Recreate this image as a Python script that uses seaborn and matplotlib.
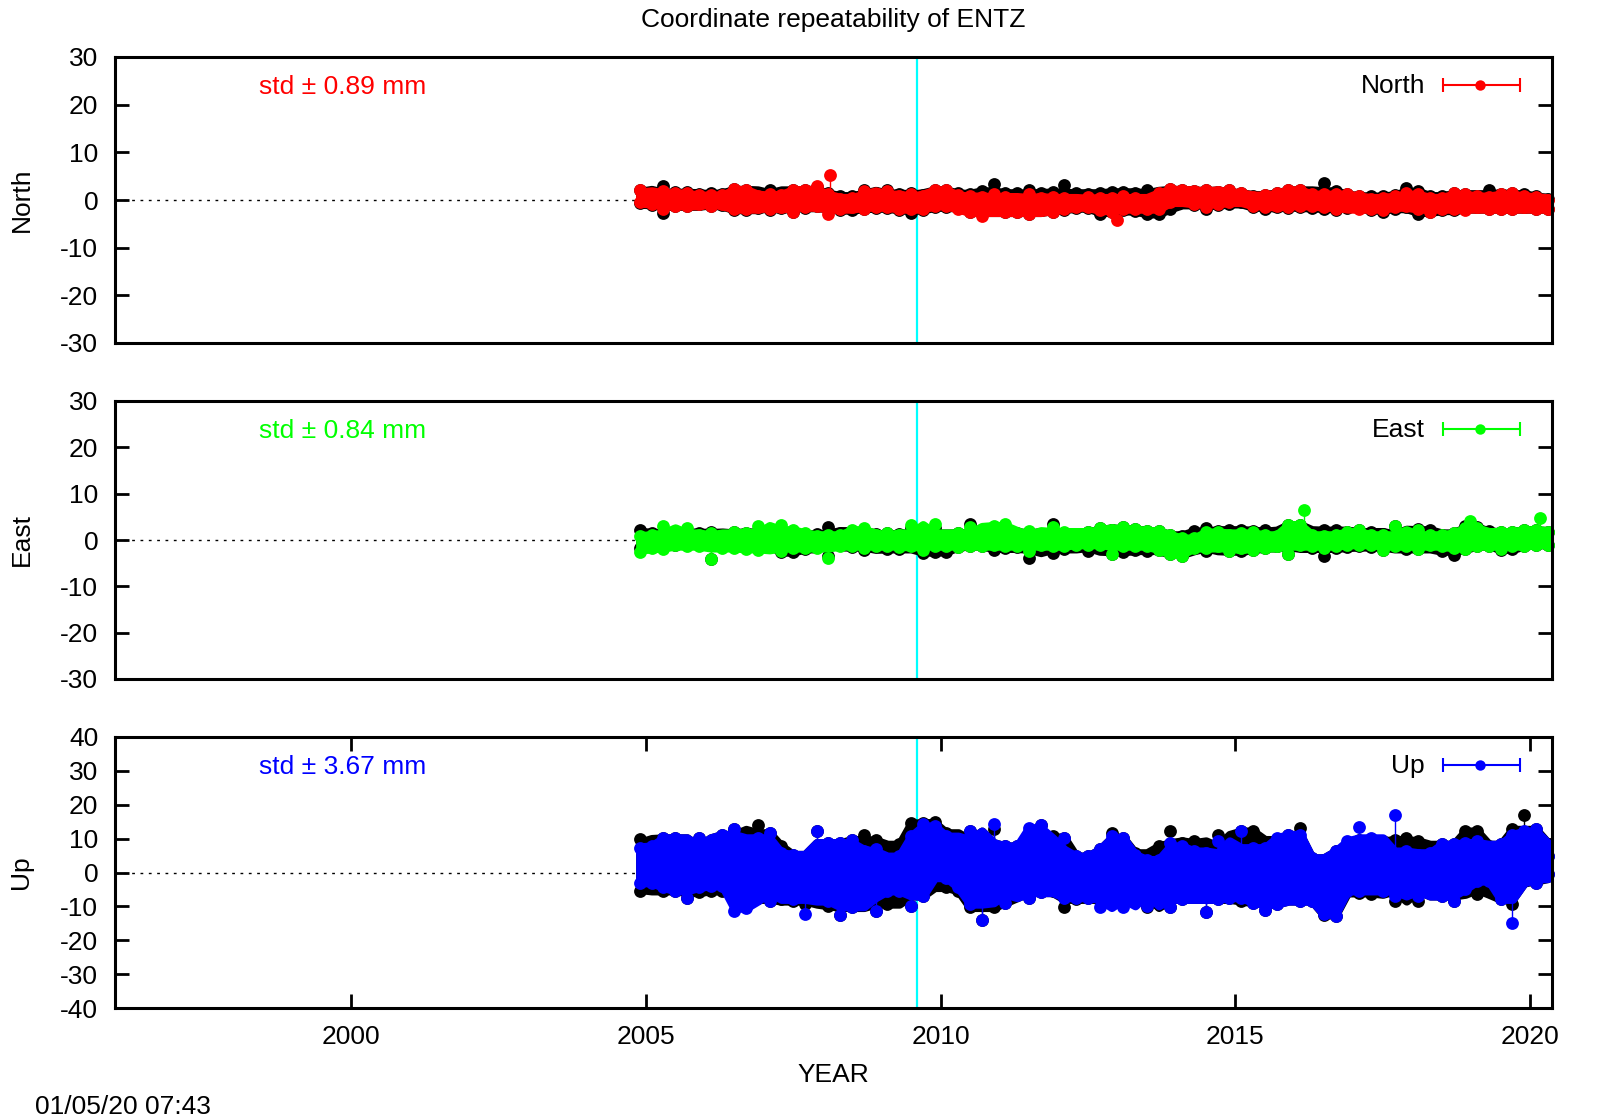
# coordinate repeatability plot, three panels North / East / Up

import pandas as pd
import matplotlib
matplotlib.use('Agg')
import matplotlib.pyplot as plt
import seaborn as sns

years = [2004.9, 2005.1, 2005.3, 2005.5, 2005.7, 2005.9, 2006.1, 2006.3, 2006.5, 2006.7,
         2006.9, 2007.1, 2007.3, 2007.5, 2007.7, 2007.9, 2008.1, 2008.3, 2008.5, 2008.7,
         2008.9, 2009.1, 2009.3, 2009.5, 2009.7, 2009.9, 2010.1, 2010.3, 2010.5, 2010.7,
         2010.9, 2011.1, 2011.3, 2011.5, 2011.7, 2011.9, 2012.1, 2012.3, 2012.5, 2012.7,
         2012.9, 2013.1, 2013.3, 2013.5, 2013.7, 2013.9, 2014.1, 2014.3, 2014.5, 2014.7,
         2014.9, 2015.1, 2015.3, 2015.5, 2015.7, 2015.9, 2016.1, 2016.3, 2016.5, 2016.7,
         2016.9, 2017.1, 2017.3, 2017.5, 2017.7, 2017.9, 2018.1, 2018.3, 2018.5, 2018.7,
         2018.9, 2019.1, 2019.3, 2019.5, 2019.7, 2019.9, 2020.1, 2020.3]

# upper and lower edge of the cloud in every time bin (mm)
north_hi = [2.1, 1.2, 1.9, 1.5, 1.4, 1.0, 1.0, 1.0, 2.4, 2.2, 0.8, 1.2, 1.0, 2.1, 2.2, 2.9, 1.2, 0.3, 0.5, 1.9,
            1.2, 1.9, 0.8, 1.2, 0.8, 2.2, 2.1, 1.0, 0.8, 0.7, 1.2, 0.7, 0.1, 1.2, 0.5, 0.7, 0.5, 0.1, 0.7,
            0.35, 0.5, 0.8, 0.5, 0.1, 1.5, 2.4, 2.2, 1.9, 2.1, 1.7, 2.2, 1.5, 0.7, 1.0, 1.4, 2.2, 2.1, 1.2, 1.2,
            1.2, 1.2, 0.8, 0.3, 0.5, 0.8, 1.5, 1.2, 0.5, 0.5, 1.5, 1.2, 0.8, 0.7, 1.2, 1.4, 0.8, 0.7, 0.1]
north_lo = [-0.5, -0.8, -1.9, -1.2, -1.2, -0.8, -1.2, -0.8, -1.9, -1.9, -1.5, -1.9, -1.5, -2.6, -1.5, -1.2, -2.9, -1.9, -1.5, -1.9,
            -1.5, -1.5, -1.9, -1.9, -1.9, -1.2, -1.2, -1.9, -2.6, -3.3, -1.5, -2.6, -2.6, -2.9, -2.2, -2.6, -1.9, -1.5, -1.5,
            -2.2, -2.6, -1.9, -1.9, -1.9, -1.9, -0.5, 0.2, -0.8, -1.5, -0.8, -0.5, -0.1, -1.2, -1.5, -1.2, -1.5, -1.2, -1.2, -1.5,
            -1.9, -1.2, -1.9, -1.9, -2.2, -1.5, -1.2, -1.9, -2.6, -1.9, -1.9, -2.2, -1.5, -1.9, -1.9, -1.9, -1.5, -1.9, -1.9]
north_black_hi = [2.2, 1.4, 3.0, 1.6, 1.6, 1.3, 1.5, 1.3, 2.4, 2.2, 1.5, 2.1, 1.3, 2.1, 2.2, 2.8, 1.4, 0.8, 0.9, 2.0,
                  1.4, 2.2, 1.2, 1.5, 1.0, 2.2, 2.1, 1.4, 1.2, 1.9, 3.3, 1.5, 1.4, 2.2, 1.4, 1.6, 3.1, 1.5, 1.2,
                  1.5, 1.7, 1.7, 1.5, 2.0, 1.5, 2.4, 2.2, 1.9, 2.1, 1.7, 2.2, 1.5, 0.8, 1.1, 1.5, 2.2, 2.1, 1.3, 3.6,
                  1.9, 1.2, 0.9, 0.8, 0.8, 1.1, 2.6, 1.8, 0.9, 0.9, 1.5, 1.3, 0.9, 2.1, 1.3, 1.5, 1.3, 0.8, 0.3]
north_black_lo = [-0.7, -1.0, -2.7, -1.3, -1.3, -0.9, -1.3, -1.0, -2.1, -2.0, -1.6, -2.0, -1.6, -2.6, -1.6, -1.3, -1.8, -2.1, -2.2, -1.8,
                  -1.6, -1.7, -2.1, -2.8, -2.1, -1.4, -1.5, -1.7, -2.6, -2.8, -1.7, -2.6, -2.6, -2.9, -2.2, -2.6, -2.0, -1.6, -1.7,
                  -2.9, -2.6, -2.2, -2.3, -2.9, -3.0, -1.8, -0.3, -1.0, -1.9, -1.1, -0.8, -0.5, -1.5, -1.9, -1.4, -1.7, -1.4, -1.6, -1.8,
                  -2.1, -1.7, -1.2, -2.1, -2.6, -1.8, -1.4, -2.9, -2.6, -2.2, -2.2, -1.9, -1.5, -1.9, -1.9, -1.9, -1.5, -1.9, -1.9]
north_spike_x = [2008.12, 2012.99]
north_spike_y = [5.2, -4.2]

east_hi = [0.8, 1.1, 3.1, 1.5, 2.6, 1.1, 1.5, 0.4, 1.7, 1.5, 3.1, 1.1, 3.3, 2.2, 1.5, 0.8, 1.1, 1.1, 2.2, 2.6,
           1.1, 1.5, 1.1, 3.3, 1.5, 3.5, 0.4, 1.5, 2.9, 1.5, 3.1, 3.4, 1.1, 2.0, 1.1, 2.9, 1.8, 1.1, 1.8,
           2.6, 2.2, 2.9, 2.4, 2.0, 2.0, 1.1, 0.4, 0.4, 1.8, 1.7, 1.1, 1.5, 1.7, 1.1, 0.8, 3.3, 3.3, 1.1, 0.8,
           1.1, 1.8, 2.2, 1.1, 1.1, 3.1, 1.1, 2.2, 1.1, 1.1, 1.5, 2.6, 2.6, 1.1, 1.8, 1.8, 2.2, 2.2, 1.8]
east_lo = [-2.6, -1.7, -1.9, -1.0, -1.3, -1.3, -4.2, -1.7, -1.7, -1.9, -2.1, -1.3, -2.4, -1.7, -1.7, -1.7, -3.9, -1.3, -1.3, -1.7,
           -1.3, -1.3, -1.5, -1.3, -2.1, -1.3, -1.3, -1.5, -1.3, -1.3, -1.0, -1.3, -1.3, -2.4, -1.0, -1.3, -1.3, -1.0, -1.0,
           -1.0, -3.1, -1.3, -1.3, -1.3, -2.1, -3.1, -3.5, -1.7, -1.7, -1.3, -2.4, -1.7, -2.1, -1.7, -1.3, -3.1, -1.0, -1.3, -1.7,
           -1.3, -1.0, -1.0, -1.0, -2.1, -1.3, -1.3, -1.9, -1.0, -1.3, -1.7, -1.9, -1.3, -1.3, -1.9, -1.3, -1.3, -1.0, -1.0]
east_black_hi = [2.2, 1.6, 1.5, 1.9, 1.7, 1.6, 1.7, 0.9, 1.8, 1.5, 2.0, 1.6, 1.9, 1.5, 1.3, 1.3, 2.9, 1.5, 2.0, 2.1,
                 1.2, 1.5, 1.2, 2.6, 1.5, 2.6, 0.8, 1.5, 3.4, 1.5, 1.9, 2.1, 1.5, 1.8, 1.3, 3.4, 1.5, 1.3, 1.8,
                 2.6, 2.2, 2.9, 2.4, 2.0, 2.0, 1.1, 0.9, 1.9, 2.6, 1.9, 2.2, 2.2, 1.9, 2.1, 1.1, 3.3, 3.3, 1.1, 2.2,
                 2.1, 1.8, 2.2, 1.8, 1.3, 3.1, 1.2, 2.3, 2.2, 1.1, 1.5, 3.0, 2.8, 1.9, 1.8, 1.8, 2.2, 2.2, 1.8]
east_black_lo = [-1.8, -1.3, -1.3, -1.1, -1.0, -1.1, -4.1, -1.3, -1.3, -1.3, -1.3, -1.2, -2.6, -2.6, -1.9, -1.2, -3.5, -0.9, -1.5, -2.2,
                 -1.0, -2.0, -1.9, -1.4, -2.7, -2.6, -2.5, -1.5, -1.3, -1.2, -2.2, -1.8, -1.5, -3.9, -2.0, -2.7, -1.9, -1.3, -2.4,
                 -1.6, -3.0, -2.5, -2.2, -2.3, -2.1, -3.1, -3.5, -1.7, -2.3, -1.5, -2.4, -2.4, -2.1, -1.7, -1.4, -3.1, -1.0, -1.8, -3.5,
                 -1.8, -1.6, -1.4, -1.5, -2.1, -1.3, -1.9, -1.9, -1.4, -2.4, -3.2, -2.0, -1.3, -1.3, -2.2, -2.0, -1.3, -1.0, -1.0]
east_spike_x = [2016.16, 2018.98, 2020.16]
east_spike_y = [6.4, 4.2, 4.7]

up_hi = [7.3, 7.8, 10.2, 10.2, 7.3, 10.2, 7.8, 11.2, 12.7, 7.8, 10.2, 11.7, 5.8, 5.3, 3.8, 12.2, 8.8, 8.8, 9.7, 6.3,
         6.8, 3.8, 4.8, 10.7, 14.2, 13.7, 10.7, 9.7, 12.2, 8.8, 14.2, 7.8, 7.8, 13.2, 13.9, 6.8, 10.2, 4.8, 4.8,
         6.8, 10.7, 10.2, 5.3, 3.8, 3.8, 8.8, 7.8, 6.3, 5.8, 9.3, 4.3, 12.2, 7.3, 7.3, 10.2, 11.2, 11.2, 4.3, 3.8,
         6.3, 9.3, 13.5, 10.2, 6.3, 17.1, 6.3, 5.3, 5.8, 8.3, 8.3, 8.8, 9.3, 6.8, 8.3, 11.2, 12.2, 12.7, 4.8]
up_lo = [-3.0, -3.0, -4.4, -5.4, -7.4, -4.4, -3.9, -3.9, -11.5, -10.5, -4.4, -8.4, -5.9, -7.9, -12.3, -7.4, -8.4, -12.5, -10.1, -7.4,
         -11.3, -5.4, -5.4, -9.8, -6.9, -0.3, -1.5, -4.4, -9.3, -14.1, -6.4, -8.9, -5.4, -7.4, -5.9, -3.9, -7.4, -7.4, -7.4,
         -10.3, -7.9, -10.3, -6.4, -9.8, -6.4, -10.3, -7.9, -6.9, -11.8, -7.9, -7.4, -7.4, -8.9, -11.1, -9.3, -6.4, -8.4, -8.4, -12.3,
         -12.8, -5.4, -5.4, -4.4, -5.4, -6.9, -4.4, -6.9, -5.4, -6.9, -8.4, -4.9, -2.5, -2.5, -7.9, -14.8, -2.0, -3.0, -0.5]
up_black_hi = [10.0, 7.8, 10.2, 10.2, 7.3, 10.2, 7.8, 11.2, 12.7, 11.2, 13.9, 11.7, 7.8, 5.3, 3.8, 12.2, 8.8, 8.8, 9.7, 11.2,
               9.5, 3.8, 8.3, 14.5, 14.7, 14.9, 11.7, 9.7, 12.2, 8.8, 12.7, 7.8, 7.8, 10.7, 13.9, 10.7, 10.2, 4.8, 4.8,
               6.8, 11.7, 10.2, 5.8, 3.8, 7.8, 12.2, 8.8, 9.3, 7.8, 11.2, 4.3, 12.2, 12.2, 7.3, 9.7, 11.2, 13.2, 4.3, 3.8,
               6.3, 7.8, 9.7, 6.8, 9.3, 9.7, 10.2, 9.3, 5.8, 8.3, 8.3, 12.2, 12.2, 7.8, 8.3, 12.7, 17.1, 12.7, 4.8]
up_black_lo = [-5.6, -4.4, -5.4, -5.4, -7.4, -5.9, -5.4, -5.4, -6.4, -7.9, -7.4, -8.4, -7.9, -8.4, -9.3, -8.4, -9.8, -12.5, -10.3, -7.9,
               -11.3, -9.3, -5.4, -9.8, -6.9, -0.5, -4.4, -5.4, -10.3, -14.1, -10.3, -8.9, -5.4, -7.4, -5.9, -5.4, -10.3, -7.9, -7.4,
               -8.4, -7.9, -9.0, -7.0, -10.3, -6.4, -10.3, -7.9, -7.0, -11.8, -7.9, -7.4, -8.4, -8.9, -11.1, -9.3, -7.5, -8.4, -8.4, -12.5,
               -12.8, -5.4, -6.0, -6.4, -5.4, -8.4, -4.4, -8.4, -5.4, -6.9, -8.4, -4.9, -6.4, -5.0, -7.9, -9.3, -2.5, -3.0, -0.5]
up_spike_x = []
up_spike_y = []

labels = ['North', 'East', 'Up']
colors = ['#ff0000', '#00ff00', '#0000ff']
stds = ['std ± 0.89 mm', 'std ± 0.84 mm', 'std ± 3.67 mm']
ylims = [(-30, 30), (-30, 30), (-40, 40)]
yticks = [[-30, -20, -10, 0, 10, 20, 30], [-30, -20, -10, 0, 10, 20, 30], [-40, -30, -20, -10, 0, 10, 20, 30, 40]]
xticks = [2000, 2005, 2010, 2015, 2020]
offset_year = 2009.6

W, H = 1600, 1120
left, right = 115, 1552
boxes = [(57, 343), (401, 679), (737, 1008)]

sns.set_style('white')
plt.rcParams['font.family'] = ['Liberation Sans', 'DejaVu Sans']
plt.rcParams['font.size'] = 19
plt.rcParams['axes.unicode_minus'] = False
# seaborn greys the text, the plot has plain black
plt.rcParams['text.color'] = 'black'
plt.rcParams['axes.labelcolor'] = 'black'
plt.rcParams['xtick.color'] = 'black'
plt.rcParams['ytick.color'] = 'black'


def draw_cloud(ax, hi, lo, color, zorder):
    df = pd.DataFrame({'year': years, 'hi': hi, 'lo': lo})
    # solid core without the lone spikes, those stay on their thin stems
    core_hi = df['hi'].rolling(3, center=True, min_periods=1).median()
    core_lo = df['lo'].rolling(3, center=True, min_periods=1).median()
    # stroke on the fill closes the gaps between neighbouring markers
    ax.fill_between(df['year'], core_lo, core_hi, facecolor=color, edgecolor=color, lw=6,
                    joinstyle='round', zorder=zorder, clip_on=False)
    ax.vlines(df['year'], df['lo'], df['hi'], color=color, lw=1, zorder=zorder, clip_on=False)
    for col in ['hi', 'lo']:
        sns.scatterplot(data=df, x='year', y=col, ax=ax, color=color, s=85, linewidth=0,
                        zorder=zorder, clip_on=False, legend=False)


fig = plt.figure(figsize=(W / 100, H / 100), dpi=100)
series = [(north_hi, north_lo, north_black_hi, north_black_lo, north_spike_x, north_spike_y),
          (east_hi, east_lo, east_black_hi, east_black_lo, east_spike_x, east_spike_y),
          (up_hi, up_lo, up_black_hi, up_black_lo, up_spike_x, up_spike_y)]

for i, (top, bottom) in enumerate(boxes):
    ax = fig.add_axes([left / W, 1 - bottom / H, (right - left) / W, (bottom - top) / H])
    hi, lo, black_hi, black_lo, spike_x, spike_y = series[i]
    color = colors[i]

    ax.plot([1996, years[0]], [0, 0], color='black', lw=1, ls=(0, (2, 4)), zorder=1)
    ax.axvline(offset_year, color='#00ffff', lw=1.6, zorder=1)

    draw_cloud(ax, black_hi, black_lo, 'black', 3)
    draw_cloud(ax, hi, lo, color, 4)
    if spike_x:
        ax.vlines(spike_x, 0, spike_y, color=color, lw=1, zorder=4)
        sns.scatterplot(x=spike_x, y=spike_y, ax=ax, color=color, s=85, linewidth=0, zorder=5, legend=False)

    ax.set_xlim(1996.0, 2020.37)
    ax.set_ylim(*ylims[i])
    ax.set_yticks(yticks[i])
    ax.set_xticks(xticks)
    ax.tick_params(axis='y', which='major', direction='in', length=10, width=2, left=True, right=True, pad=12)
    # the time ticks only show on the last panel
    ax.tick_params(axis='x', which='major', direction='in', length=10, width=2, bottom=(i == 2), top=(i == 2),
                   labelbottom=(i == 2), pad=12)
    for spine in ax.spines.values():
        spine.set_linewidth(2.2)
        spine.set_color('black')
        spine.set_zorder(6)
    ax.set_xlabel('')
    ax.set_ylabel(labels[i], va='center')
    ax.yaxis.set_label_coords(-(left - 21.5) / (right - left), 0.5)

    # std note and the key are placed in panel pixels
    h = bottom - top
    ax.text((259 - left) / (right - left), 1 - (87 - 57) / h, stds[i], color=color, ha='left', va='center',
            transform=ax.transAxes)
    key_y = 1 - (85 - 57) / h
    ax.text((1425 - left) / (right - left), key_y - 1 / h, labels[i], color='black', ha='right', va='center',
            transform=ax.transAxes)
    x0, xm, x1 = [(p - left) / (right - left) for p in (1443, 1480, 1520)]
    ax.plot([x0, x1], [key_y, key_y], color=color, lw=1.5, transform=ax.transAxes)
    ax.plot([x0, x1], [key_y, key_y], color=color, ls='', marker='|', ms=10, mew=1.5, transform=ax.transAxes)
    ax.plot([xm], [key_y], color=color, ls='', marker='o', ms=7.5, mew=0, transform=ax.transAxes)

    if i == 0:
        ax.set_title('Coordinate repeatability of ENTZ', fontsize=19, pad=21.5)
    if i == 2:
        ax.set_xlabel('YEAR', labelpad=14)
        ax.xaxis.set_label_coords(0.5, -(1075 - 1008) / h, transform=ax.transAxes)
        ax.xaxis.label.set_va('center')

fig.text(35 / W, 1 - 1107 / H, '01/05/20 07:43', ha='left', va='center')
fig.savefig('out.png', dpi=100)
